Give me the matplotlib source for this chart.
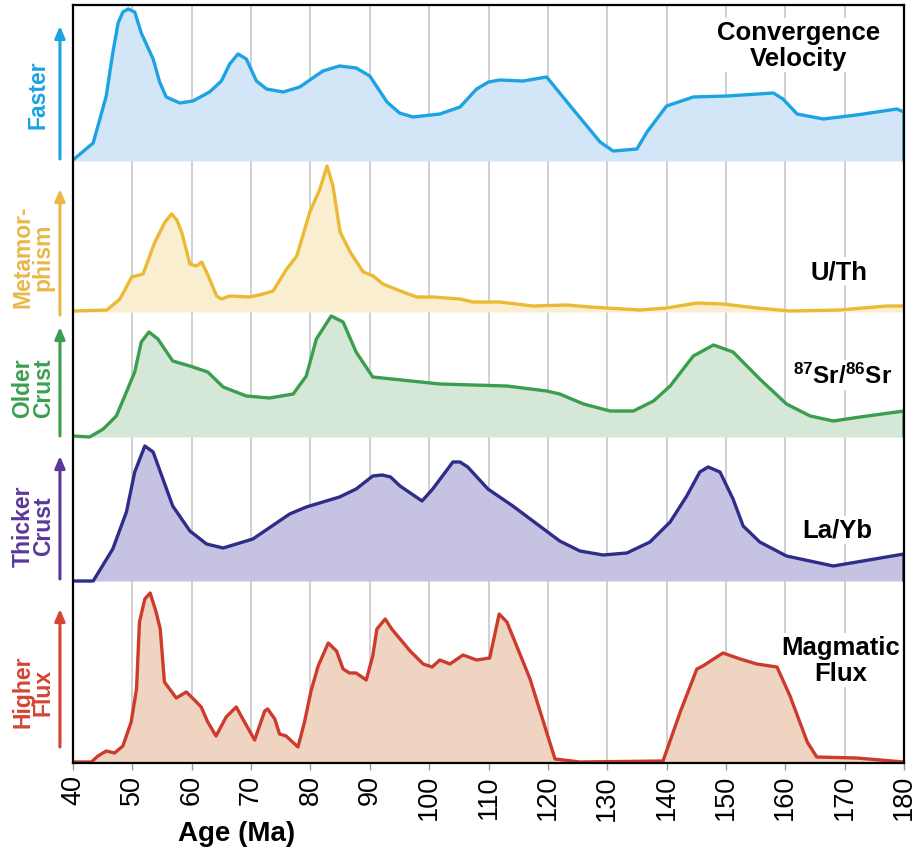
import numpy as np
import matplotlib.pyplot as plt

plt.rcParams['font.family'] = ['Liberation Sans', 'DejaVu Sans']
plt.rcParams['mathtext.fontset'] = 'custom'
plt.rcParams['mathtext.rm'] = 'Liberation Sans'
plt.rcParams['mathtext.bf'] = 'Liberation Sans:bold'

# ages (Ma) and relative heights, one list per panel
conv_age = [40, 43.4, 44.2, 45.6, 46.7, 47.6, 48.4, 49.3, 50.4, 51.5, 53.5, 54.6, 55.7, 58,
            60.2, 63, 65, 66.4, 67.8, 69.2, 70.9, 72.6, 75.4, 78.2, 82.1, 84.9, 87.7, 90,
            92.9, 95, 97.3, 101.8, 105.2, 108, 110, 111.9, 115.8, 119.8, 124.2, 128.8, 131,
            135, 136.7, 140, 144.5, 150.2, 158, 159.6, 162, 166.4, 172, 178.8, 180, 180]
conv_val = [1, 18, 35, 65, 108, 138, 149, 152, 149, 128, 102, 79, 64, 58,
            60, 69, 80, 97, 107, 102, 80, 72, 69, 74, 90, 95, 93, 85,
            59, 48, 44, 47, 54, 72, 79, 81, 80, 84, 52, 19, 10,
            12, 29, 55, 64, 65, 68, 62, 47, 42, 46, 52, 49, 0]

meta_age = [40, 45.7, 47.9, 49.9, 51.8, 53.8, 55.5, 56.6, 57.5, 58.3, 59.7, 60.8, 61.7, 62.8,
            64.2, 65, 66.4, 69.8, 72, 73.7, 76, 77.7, 79.9, 81.6, 82.8, 83.8, 85, 86.7, 88.9,
            90.6, 92.2, 95.6, 97.9, 100.6, 105.2, 107.4, 111.9, 117.5, 123.2, 127.1, 135.5,
            140, 145.1, 149.5, 155.2, 160.8, 169.2, 177.1, 180]
meta_val = [1, 2, 13, 35, 38, 70, 90, 98, 92, 80, 48, 46, 50, 36,
            16, 13, 16, 15, 18, 21, 43, 56, 100, 123, 146, 126, 80, 60, 40,
            36, 28, 20, 15, 15, 13, 10, 10, 6, 7, 5, 2,
            4, 9, 8, 4, 1, 2, 6, 6]

older_age = [40, 42.8, 45.1, 47.3, 49, 50.4, 51.5, 52.8, 54.3, 56.8, 59.7, 62.7, 65.3, 69.2,
             73.1, 77.1, 79.3, 81, 83.5, 85.5, 87.7, 90.5, 101.8, 113.1, 119.8, 122, 126,
             130.5, 134.4, 137.8, 140.6, 144.5, 147.9, 151.2, 155.7, 160.2, 164.2, 168.1,
             172.6, 180, 180]
older_val = [1, 0, 8, 21, 45, 65, 95, 105, 98, 76, 71, 65, 50, 41,
             39, 43, 61, 98, 121, 115, 85, 60, 53, 51, 46, 43, 33,
             26, 26, 36, 51, 81, 92, 85, 58, 33, 21, 16,
             20, 26, 0]

thick_age = [40, 43.4, 46.7, 49, 50.4, 52.1, 53.5, 56.8, 59.7, 62.5, 65.3, 70.3, 76.5, 79.3,
             84.9, 87.7, 90.5, 92.1, 93.5, 95.1, 98.8, 100.6, 104, 105.2, 106.5, 109.9, 114.1,
             122, 125.4, 129.3, 133.3, 137.2, 140.6, 143.4, 145.6, 147, 149, 151.2, 152.9,
             155.7, 160.2, 168.1, 180, 180]
thick_val = [0, 0, 32, 69, 109, 135, 129, 75, 50, 37, 33, 42, 67, 74,
             84, 92, 105, 106, 104, 95, 80, 92, 119, 119, 114, 92, 75,
             40, 30, 26, 28, 39, 59, 85, 109, 114, 109, 82, 55,
             39, 25, 15, 27, 0]

mag_age = [40, 43.1, 44.2, 45.6, 47, 48.4, 49.8, 50.7, 51.2, 52.1, 53, 54, 54.7, 55.4, 57.4,
           59.1, 60.8, 61.6, 62.7, 64.1, 65.8, 67.5, 68.9, 70.6, 72.3, 72.8, 74, 74.8, 75.9,
           77.9, 79, 80.1, 81.3, 83, 84.4, 85.5, 86.6, 87.7, 89.4, 90.5, 91.2, 92.6, 93.7,
           96.8, 99, 100.5, 101.8, 103.5, 105.7, 108, 110.2, 111.8, 113.1, 117, 121.2, 125.4,
           139.4, 142.3, 145.1, 146.1, 149.5, 152.4, 155.2, 158.6, 160.8, 163.7, 165.3, 172,
           180]
mag_val = [1, 1, 7, 12, 10, 17, 41, 74, 141, 164, 170, 151, 134, 81, 65,
           71, 61, 56, 41, 27, 46, 56, 41, 23, 52, 54, 44, 29, 27,
           16, 41, 72, 97, 120, 112, 94, 90, 90, 83, 107, 134, 144, 134,
           112, 99, 96, 103, 99, 108, 103, 105, 149, 141, 84, 4, 1,
           2, 51, 94, 97, 110, 104, 99, 96, 67, 21, 6, 5,
           1]

panels = [
    (conv_age, conv_val, '#1ba3e2', '#d3e6f8'),
    (meta_age, meta_val, '#ebb933', '#f9eecf'),
    (older_age, older_val, '#3b9e4f', '#d5e7d6'),
    (thick_age, thick_val, '#2e2d8a', '#c6c3e2'),
    (mag_age, mag_val, '#cc3b2b', '#efd4c1'),
]
baselines = [602, 451, 326, 182, 0]

left_labels = ['Faster', 'Metamor-\nphism', 'Older\nCrust', 'Thicker\nCrust', 'Higher\nFlux']
left_colors = ['#1ba3e2', '#e8b84a', '#3b9e4f', '#5b3899', '#d44434']
left_label_y = [669, 507, 376, 238, 72]
left_label_x = [34.1, 33.3, 33.3, 33.3, 33.3]
arrow_spans = [(604, 737), (448, 574), (327, 436), (184, 307), (16, 154)]

right_labels = ['Convergence\nVelocity', 'U/Th', r'$\mathbf{^{87}Sr/^{86}Sr}$',
                'La/Yb', 'Magmatic\nFlux']
right_xy = [(162.3, 718), (169.1, 492), (169.6, 388), (168.7, 233), (169.4, 103)]
right_size = [18.5, 18.5, 17.5, 18.5, 18.5]

fig = plt.figure(figsize=(9.16, 8.53), dpi=100)
ax = fig.add_axes([73 / 916, 89 / 853, 831 / 916, 758 / 853])

for (age, val, lc, fc), base in zip(panels, baselines):
    y = base + np.array(val, dtype=float)
    ax.fill_between(age, base, y, color=fc, lw=0, zorder=2.6)
    ax.plot(age, y, color=lc, lw=2.4, zorder=3, solid_joinstyle='round',
            solid_capstyle='round')

for lab, col, ly, lx, (a0, a1) in zip(left_labels, left_colors, left_label_y,
                                      left_label_x, arrow_spans):
    ax.text(lx, ly, lab, rotation=90, ha='center', va='center', color=col,
            fontsize=16.5, fontweight='bold', linespacing=0.85, clip_on=False)
    ax.annotate('', xy=(37.8, a1), xytext=(37.8, a0), annotation_clip=False,
                arrowprops=dict(arrowstyle='-|>,head_width=0.3,head_length=0.7',
                                color=col, lw=2.2, shrinkA=0, shrinkB=0))

for lab, (rx, ry), fs in zip(right_labels, right_xy, right_size):
    ax.text(rx, ry, lab, ha='center', va='center', fontsize=fs, fontweight='bold',
            linespacing=1.1, zorder=2.5,
            bbox=dict(facecolor='white', edgecolor='none', pad=1.5))

ax.set_xlim(40, 180)
ax.set_ylim(0, 758)
ax.set_xticks(np.arange(40, 181, 10))
ax.tick_params(axis='x', labelrotation=90, labelsize=19.5, length=5, width=1,
               color='#999999', pad=3)
ax.set_yticks([])
ax.xaxis.grid(True, color='#d0d0d0', lw=1.4)
ax.set_axisbelow(True)
for s in ax.spines.values():
    s.set_color('black')
    s.set_linewidth(1.6)
    s.set_zorder(5)

ax.text(67.6, -70, 'Age (Ma)', ha='center', va='center', fontsize=20,
        fontweight='bold', clip_on=False)

fig.savefig('out.png', dpi=100)
